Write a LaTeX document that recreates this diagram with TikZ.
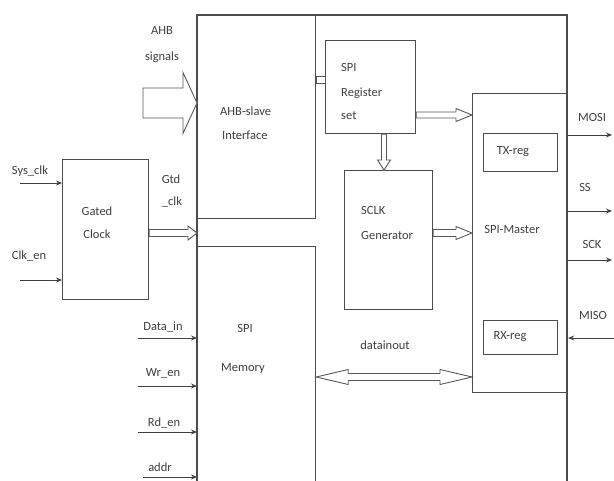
\documentclass[tikz,border=0pt]{standalone}
\usepackage{fontspec}
\setmainfont{Carlito}
\usetikzlibrary{arrows.meta,calc}
\newcommand{\hollowR}[5]{\path[hollow] let \p1=#1, \p2=#2 in (\x1,\y1+#3) -- (\x2-#5,\y1+#3) -- (\x2-#5,\y1+#4) -- (\x2,\y1) -- (\x2-#5,\y1-#4) -- (\x2-#5,\y1-#3) -- (\x1,\y1-#3) -- cycle;}
\newcommand{\hollowD}[5]{\path[hollow] let \p1=#1, \p2=#2 in (\x1+#3,\y1) -- (\x1+#3,\y2+#5) -- (\x1+#4,\y2+#5) -- (\x1,\y2) -- (\x1-#4,\y2+#5) -- (\x1-#3,\y2+#5) -- (\x1-#3,\y1) -- cycle;}
\newcommand{\hollowLR}[5]{\path[hollow] let \p1=#1, \p2=#2 in (\x1,\y1) -- (\x1+#5,\y1+#4) -- (\x1+#5,\y1+#3) -- (\x2-#5,\y1+#3) -- (\x2-#5,\y1+#4) -- (\x2,\y1) -- (\x2-#5,\y1-#4) -- (\x2-#5,\y1-#3) -- (\x1+#5,\y1-#3) -- (\x1+#5,\y1-#4) -- cycle;}
\begin{document}
\begin{tikzpicture}[x=1pt,y=-1pt,
  line/.style={draw=black!70, line width=1.2pt},
  box/.style={line, rectangle, inner sep=0pt, anchor=north west},
  hollow/.style={draw=black!65, line width=0.9pt, fill=white},
  sig/.style={draw=black!75, line width=0.9pt, -{Stealth[length=6pt,width=5pt]}},
  txt/.style={text=black!75, font=\fontsize{12.5}{14}\selectfont, inner sep=0pt}]
\useasboundingbox (0,0) rectangle (614,481);
\clip (0,0) rectangle (614,481);
\fill[white] (0,0) rectangle (614,481);
% outer frame
\draw[line] (197,500) -- (197,15) -- (567,15) -- (567,500);
% blocks
\node[box, minimum width=118pt, minimum height=203pt] (ahb) at (197,15) {};
\node[box, minimum width=118pt, minimum height=270pt] (mem) at (197,246) {};
\node[box, minimum width=90pt, minimum height=93pt] (reg) at (325,40) {};
\node[box, minimum width=88pt, minimum height=139pt] (sclk) at (344,170) {};
\node[box, minimum width=95pt, minimum height=299pt] (master) at (472,93) {};
\node[box, minimum width=74pt, minimum height=38pt] (tx) at (483,133) {};
\node[box, minimum width=74pt, minimum height=34pt] (rx) at (483,320) {};
\node[box, minimum width=86pt, minimum height=140pt] (gated) at (62,159) {};
% coordinates
\coordinate (ahbin) at (143,103);
\coordinate (ygtd) at (0,233);
\coordinate (yreg) at (0,115);
\coordinate (xdown) at (384,0);
\coordinate (yio) at (0,377);
\coordinate (s1) at (0,76);
\coordinate (s2) at (0,83);
\coordinate (sysin) at (20,183);
\coordinate (clkin) at (20,280);
\coordinate (din) at (138,338);
\coordinate (wrin) at (138,386);
\coordinate (rdin) at (138,432);
\coordinate (adin) at (143,477);
\coordinate (mosi) at (612,135);
\coordinate (ss) at (612,211);
\coordinate (sck) at (612,260);
\coordinate (misoin) at (614,338);
% hollow arrows
\hollowR{(ahbin)}{(ahb.west |- ahbin)}{15pt}{30.5pt}{14pt}
\hollowR{(gated.east |- ygtd)}{(ahb.south west |- ygtd)}{3.5pt}{7pt}{9pt}
\hollowR{(reg.east |- yreg)}{(master.west |- yreg)}{3pt}{6.5pt}{16pt}
\hollowD{(reg.south -| xdown)}{(sclk.north -| xdown)}{2.5pt}{6.5pt}{10pt}
\hollowR{(sclk.east |- ygtd)}{(master.west |- ygtd)}{3.5pt}{6.5pt}{16pt}
\hollowLR{(mem.east |- yio)}{(master.west |- yio)}{3.5pt}{7.5pt}{32pt}
\draw[hollow] (ahb.east |- s1) rectangle (reg.west |- s2);
% signals
\draw[sig] (sysin) -- (gated.west |- sysin);
\draw[sig] (clkin) -- (gated.west |- clkin);
\draw[sig] (din) -- (mem.west |- din);
\draw[sig] (wrin) -- (mem.west |- wrin);
\draw[sig] (rdin) -- (mem.west |- rdin);
\draw[sig] (adin) -- (mem.west |- adin);
\draw[sig] (master.east |- mosi) -- (mosi);
\draw[sig] (master.east |- ss) -- (ss);
\draw[sig] (master.east |- sck) -- (sck);
\draw[sig] (misoin) -- (master.east |- misoin);
% texts
\node[txt] (tahb1) at (162,30) {AHB};
\node[txt] (tahb2) at (162,57) {signals};
\node[txt, anchor=west] (tslave1) at (220,111) {AHB-slave};
\node[txt, anchor=west] (tslave2) at (222,135) {Interface};
\node[txt] (tsys) at (30,171) {Sys\_clk};
\node[txt] (tclken) at (29,256) {Clk\_en};
\node[txt] (tgated1) at (97,211) {Gated};
\node[txt] (tgated2) at (97,234) {Clock};
\node[txt] (tgtd1) at (171,179) {Gtd};
\node[txt] (tgtd2) at (172,202) {\_clk};
\node[txt, anchor=west] (treg1) at (341,67) {SPI};
\node[txt, anchor=west] (treg2) at (341,93) {Register};
\node[txt, anchor=west] (treg3) at (341,116) {set};
\node[txt] (ttx) at (513,152) {TX-reg};
\node[txt, anchor=west] (tsclk1) at (361,210) {SCLK};
\node[txt, anchor=west] (tsclk2) at (361,235) {Generator};
\node[txt] (tmaster) at (512,229) {SPI-Master};
\node[txt] (tmosi) at (592,117) {MOSI};
\node[txt] (tss) at (585,187) {SS};
\node[txt] (tsck) at (592,244) {SCK};
\node[txt] (tmiso) at (593,315) {MISO};
\node[txt] (trx) at (510,337) {RX-reg};
\node[txt] (tdio) at (385,345) {datainout};
\node[txt] (tmem1) at (245,328) {SPI};
\node[txt] (tmem2) at (243,368) {Memory};
\node[txt] (tdin) at (163,327) {Data\_in};
\node[txt] (twr) at (163,373) {Wr\_en};
\node[txt] (trd) at (164,423) {Rd\_en};
\node[txt] (tad) at (160,467) {addr};
\end{tikzpicture}
\end{document}
